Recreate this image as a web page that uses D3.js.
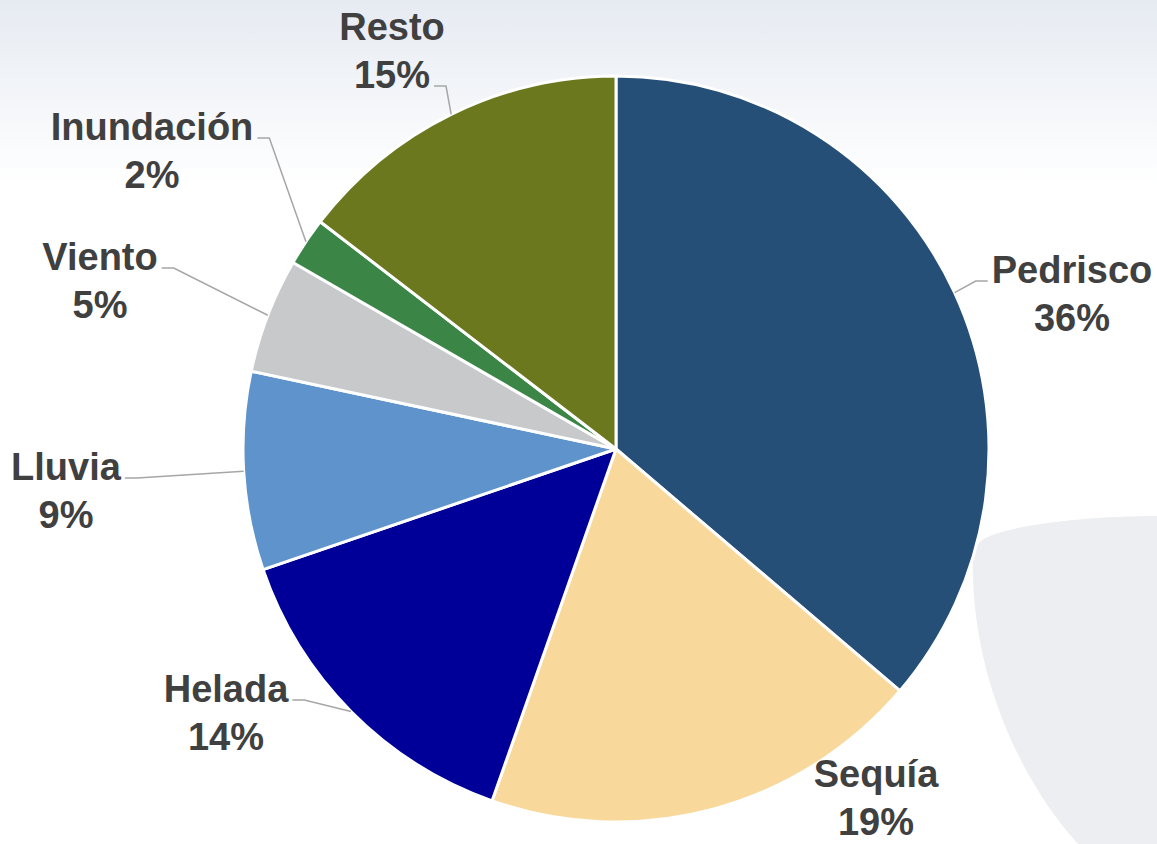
<!DOCTYPE html>
<html>
<head>
<meta charset="utf-8">
<script src="https://cdn.jsdelivr.net/npm/d3@7"></script>
<style>
  html, body { margin: 0; padding: 0; background: #fff; }
  #chart { width: 1157px; height: 844px; }
</style>
</head>
<body>
<div id="chart"></div>
<script>
// Siniestralidad por riesgo – reparto en %
const categories = ["Pedrisco", "Sequía", "Helada", "Lluvia", "Viento", "Inundación", "Resto"];
const shares     = [36.3, 19.2, 14.4, 8.6, 5.0, 2.1, 14.6];
const sliceColors = ["#264f78", "#f9d89c", "#000099", "#5f93cb", "#c8c9cb", "#3b8646", "#6b781e"];

/* ---------- layout ---------- */
const W = 1157, H = 844;
const cx = 616, cy = 449, R = 373;
const fontSize = 38, lineGap = 48;
// label anchor (centre x, first baseline) + which side the leader leaves from
const labelLayout = {
  "Pedrisco":   { x: 1072, y: 283, side: "left",  line: 0 },
  "Sequía":     { x: 876,  y: 787, side: null,    line: 0 },
  "Helada":     { x: 226,  y: 702, side: "right", line: 0 },
  "Lluvia":     { x: 66,   y: 480, side: "right", line: 0 },
  "Viento":     { x: 100,  y: 270, side: "right", line: 0 },
  "Inundación": { x: 152,  y: 140, side: "right", line: 0 },
  "Resto":      { x: 392,  y: 40,  side: "right", line: 1 }
};

const data = categories.map((c, i) => ({ name: c, v: shares[i], color: sliceColors[i] }));
const fmtPct = v => d3.format(".0%")(v / 100);

const svg = d3.select("#chart").append("svg")
  .attr("width", W)
  .attr("height", H);

// background: soft top gradient + light grey shape bottom-right
const defs = svg.append("defs");
const grad = defs.append("linearGradient")
  .attr("id", "bg").attr("x1", 0).attr("y1", 0).attr("x2", 0).attr("y2", 1);
grad.append("stop").attr("offset", "0%").attr("stop-color", "#e6ebf2");
grad.append("stop").attr("offset", "22%").attr("stop-color", "#ffffff");
grad.append("stop").attr("offset", "100%").attr("stop-color", "#ffffff");
svg.append("rect").attr("width", W).attr("height", H).attr("fill", "url(#bg)");

svg.append("path")
  .attr("d", "M1157,516 C1080,516 1005,526 982,540 Q971,548 973,578 C976,680 1020,780 1078,844 L1157,844 Z")
  .attr("fill", "#eceef2");

// pie
const pie = d3.pie().sort(null).value(d => d.v);
const arcs = pie(data);
const arc = d3.arc().innerRadius(0).outerRadius(R);
const edge = d3.arc().innerRadius(R).outerRadius(R);

const g = svg.append("g").attr("transform", `translate(${cx},${cy})`);
g.selectAll("path.slice")
  .data(arcs)
  .join("path")
    .attr("class", "slice")
    .attr("d", arc)
    .attr("fill", d => d.data.color)
    .attr("stroke", "#fff")
    .attr("stroke-width", 3)
    .attr("stroke-linejoin", "round");

// labels
const labels = svg.append("g")
  .attr("font-family", "'Liberation Sans', Arial, sans-serif")
  .attr("font-weight", "bold")
  .attr("font-size", fontSize)
  .attr("fill", "#404040");

const leaders = svg.append("g")
  .attr("fill", "none")
  .attr("stroke", "#a6a6a6")
  .attr("stroke-width", 1.5);

arcs.forEach(a => {
  const L = labelLayout[a.data.name];
  const t = labels.append("text").attr("text-anchor", "middle");
  const lines = [a.data.name, fmtPct(a.data.v)];
  const spans = lines.map((s, i) =>
    t.append("tspan").attr("x", L.x).attr("y", L.y + i * lineGap).text(s));

  if (!L.side) return;
  const w = spans[L.line].node().getComputedTextLength();
  const yy = L.y + L.line * lineGap - 2;
  const x0 = L.side === "right" ? L.x + w / 2 + 4 : L.x - w / 2 - 4;
  const x1 = L.side === "right" ? x0 + 12 : x0 - 12;
  const [ex, ey] = edge.centroid(a);
  leaders.append("polyline")
    .attr("points", `${x0},${yy} ${x1},${yy} ${cx + ex},${cy + ey}`);
});
</script>
</body>
</html>
